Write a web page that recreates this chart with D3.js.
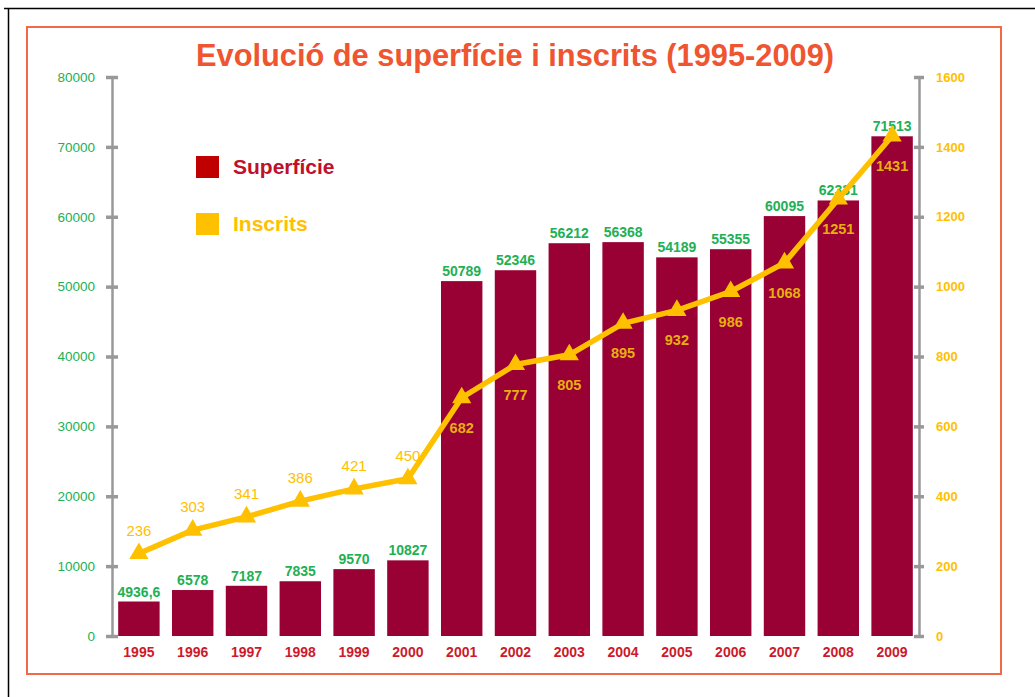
<!DOCTYPE html>
<html>
<head>
<meta charset="utf-8">
<script src="https://cdn.jsdelivr.net/npm/d3@7"></script>
<style>
  body { margin: 0; background: #fff; }
  svg { display: block; font-family: 'Liberation Sans', Arial, sans-serif; }
</style>
</head>
<body>
<div id="chart"></div>
<script>
// chart data
var years = ['1995','1996','1997','1998','1999','2000','2001','2002','2003','2004','2005','2006','2007','2008','2009'];
var superficie = [4936.6, 6578, 7187, 7835, 9570, 10827, 50789, 52346, 56212, 56368, 54189, 55355, 60095, 62331, 71513];
var superficieLabels = ['4936,6','6578','7187','7835','9570','10827','50789','52346','56212','56368','54189','55355','60095','62331','71513'];
var inscrits = [236, 303, 341, 386, 421, 450, 682, 777, 805, 895, 932, 986, 1068, 1251, 1431];
var leftTicks = [0, 10000, 20000, 30000, 40000, 50000, 60000, 70000, 80000];
var rightTicks = [0, 200, 400, 600, 800, 1000, 1200, 1400, 1600];

var W = 1035, H = 697;
var BAR = '#990033', GOLD = '#FFC000', GREEN = '#22B055', RED = '#CC1A2A', FRAME = '#F26A45';

var svg = d3.select('#chart').append('svg').attr('width', W).attr('height', H);

// outer black page lines
svg.append('line').attr('x1', 4).attr('x2', W).attr('y1', 8.5).attr('y2', 8.5)
	.attr('stroke', '#000').attr('stroke-width', 1.5);
svg.append('line').attr('x1', 8.5).attr('x2', 8.5).attr('y1', 8).attr('y2', H)
	.attr('stroke', '#000').attr('stroke-width', 1.5);

// orange frame
svg.append('rect').attr('x', 27).attr('y', 27).attr('width', 974).attr('height', 647)
	.attr('fill', 'none').attr('stroke', FRAME).attr('stroke-width', 2);

// title
svg.append('text').attr('x', 515).attr('y', 66).attr('text-anchor', 'middle')
	.attr('font-size', 32).attr('font-weight', 'bold').attr('fill', '#EE5530')
	.attr('textLength', 638).attr('lengthAdjust', 'spacingAndGlyphs')
	.text('Evolució de superfície i inscrits (1995-2009)');

var x = d3.scaleBand().domain(years).range([112, 919]).paddingInner(0.23).paddingOuter(0.115);
var yL = d3.scaleLinear().domain([0, 80000]).range([636, 77]);
var yR = d3.scaleLinear().domain([0, 1600]).range([636, 77]);

// bars
svg.selectAll('rect.bar').data(superficie).enter().append('rect')
	.attr('class', 'bar')
	.attr('x', function(d, i) { return x(years[i]); })
	.attr('y', function(d) { return yL(d); })
	.attr('width', x.bandwidth())
	.attr('height', function(d) { return yL(0) - yL(d); })
	.attr('fill', BAR);

// axes
function drawAxis(axis, pos, color) {
	var g = svg.append('g').attr('transform', 'translate(' + pos + ',0)').call(axis);
	g.select('.domain').attr('stroke', '#999').attr('stroke-width', 2.5);
	g.selectAll('.tick line').attr('stroke', '#999').attr('stroke-width', 3.5);
	g.selectAll('.tick text').attr('fill', color).attr('font-size', 13.5)
		.attr('font-family', "'Liberation Sans', Arial, sans-serif");
	return g;
}
var gl = drawAxis(d3.axisLeft(yL).tickValues(leftTicks).tickSize(0).tickPadding(17).tickFormat(d3.format('d')), 112, GREEN);
gl.selectAll('.tick line').attr('x1', -6).attr('x2', 6);
var gr = drawAxis(d3.axisRight(yR).tickValues(rightTicks).tickSize(0).tickPadding(17).tickFormat(d3.format('d')), 919, GOLD);
gr.selectAll('.tick line').attr('x1', -5).attr('x2', 5);
gr.selectAll('.tick text').attr('font-weight', 'bold').attr('font-size', 13);

// x labels
svg.selectAll('text.year').data(years).enter().append('text')
	.attr('class', 'year')
	.attr('x', function(d) { return x(d) + x.bandwidth() / 2; })
	.attr('y', 657)
	.attr('text-anchor', 'middle').attr('font-size', 14).attr('font-weight', 'bold')
	.attr('fill', RED).text(function(d) { return d; });

// bar value labels
svg.selectAll('text.sval').data(superficie).enter().append('text')
	.attr('class', 'sval')
	.attr('x', function(d, i) { return x(years[i]) + x.bandwidth() / 2; })
	.attr('y', function(d) { return yL(d) - 5; })
	.attr('text-anchor', 'middle').attr('font-size', 14).attr('font-weight', 'bold')
	.attr('fill', GREEN).text(function(d, i) { return superficieLabels[i]; });

// inscrits line
var cx = function(d, i) { return x(years[i]) + x.bandwidth() / 2; };
var line = d3.line().x(cx).y(function(d) { return yR(d); });
svg.append('path').datum(inscrits).attr('d', line)
	.attr('fill', 'none').attr('stroke', GOLD).attr('stroke-width', 5.5).attr('stroke-linejoin', 'round');

var tri = d3.symbol().type(d3.symbolTriangle).size(160);
svg.selectAll('path.mk').data(inscrits).enter().append('path')
	.attr('class', 'mk')
	.attr('transform', function(d, i) { return 'translate(' + cx(d, i) + ',' + yR(d) + ')'; })
	.attr('d', tri).attr('fill', GOLD);

svg.selectAll('text.ival').data(inscrits).enter().append('text')
	.attr('class', 'ival')
	.attr('x', cx)
	.attr('y', function(d, i) { return i < 6 ? yR(d) - 18 : yR(d) + 35; })
	.attr('text-anchor', 'middle')
	.attr('font-size', function(d, i) { return i < 6 ? 15 : 14.5; })
	.attr('font-weight', function(d, i) { return i < 6 ? 'normal' : 'bold'; })
	.attr('fill', function(d, i) { return i < 6 ? GOLD : '#E8AE10'; })
	.text(function(d) { return d; });

// legend
var legend = [['Superfície', '#C00000', '#C0102A'], ['Inscrits', GOLD, GOLD]];
legend.forEach(function(d, i) {
	var ly = 156 + i * 57;
	svg.append('rect').attr('x', 196).attr('y', ly).attr('width', 23).attr('height', 22).attr('fill', d[1]);
	svg.append('text').attr('x', 233).attr('y', ly + 18).attr('font-size', 21).attr('font-weight', 'bold')
		.attr('fill', d[2]).text(d[0]);
});
</script>
</body>
</html>
